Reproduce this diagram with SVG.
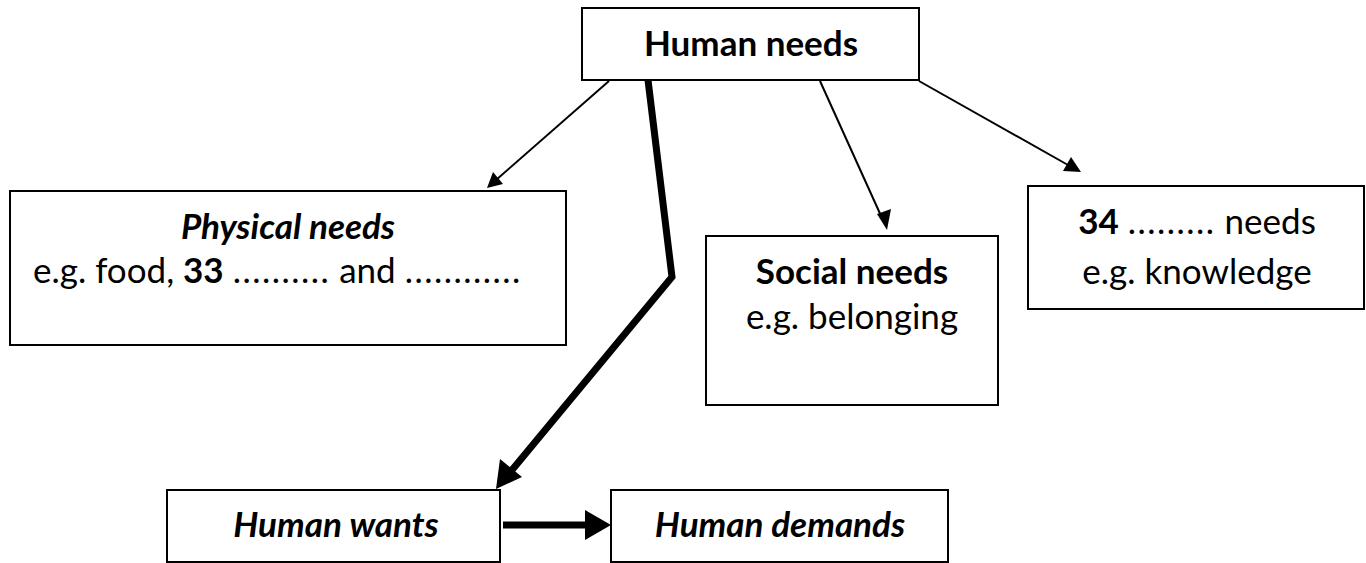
<svg xmlns="http://www.w3.org/2000/svg" width="1366" height="563" viewBox="0 0 1366 563">
<defs>
<style>
.box{fill:#fff;stroke:#000;stroke-width:2}
.t{font-family:Lato,"Open Sans",sans-serif;font-size:35px;fill:#000;text-anchor:middle}
.b{font-weight:bold}
.i{font-style:italic}
.d{letter-spacing:1.5px}
.thin{stroke:#000;stroke-width:2;fill:none}
.thick{stroke:#000;stroke-width:7;fill:none}
</style>
</defs>
<rect width="1366" height="563" fill="#fff"/>
<g id="connectors">
<line class="thin" x1="609" y1="81" x2="496" y2="180"/>
<polygon points="487,188 493,172 503,184"/>
<line class="thin" x1="820" y1="81" x2="882" y2="218"/>
<polygon points="887,230 877,214 891,209"/>
<line class="thin" x1="919" y1="81" x2="1068" y2="165"/>
<polygon points="1081,172 1063,171 1071,157"/>
<polyline class="thick" points="648,80 672,277 512,470"/>
<polygon points="496,489 500,459 522,477"/>
<line class="thick" x1="503" y1="525" x2="588" y2="525"/>
<polygon points="611,525 585,510 585,540"/>
</g>
<g id="human-needs">
<rect class="box" x="582" y="8" width="337" height="72"/>
<text class="t b" x="751" y="56">Human needs</text>
</g>
<g id="physical-needs">
<rect class="box" x="10" y="191" width="556" height="154"/>
<text class="t b i" x="288" y="239" font-size="36">Physical needs</text>
<text class="t" x="33" y="283" style="text-anchor:start">e.g. food, <tspan class="b">33</tspan> <tspan class="d">..........</tspan> and <tspan class="d">............</tspan></text>
</g>
<g id="social-needs">
<rect class="box" x="706" y="236" width="292" height="169"/>
<text class="t b" x="852" y="284">Social needs</text>
<text class="t" x="852" y="329">e.g. belonging</text>
</g>
<g id="other-needs">
<rect class="box" x="1028" y="186" width="336" height="123"/>
<text class="t" x="1197" y="234"><tspan class="b">34</tspan> <tspan class="d">.........</tspan> needs</text>
<text class="t" x="1197" y="284">e.g. knowledge</text>
</g>
<g id="human-wants">
<rect class="box" x="167" y="490" width="333" height="72"/>
<text class="t b i" x="336" y="537" font-size="36">Human wants</text>
</g>
<g id="human-demands">
<rect class="box" x="611" y="490" width="337" height="72"/>
<text class="t b i" x="780" y="537" font-size="36">Human demands</text>
</g>
</svg>
